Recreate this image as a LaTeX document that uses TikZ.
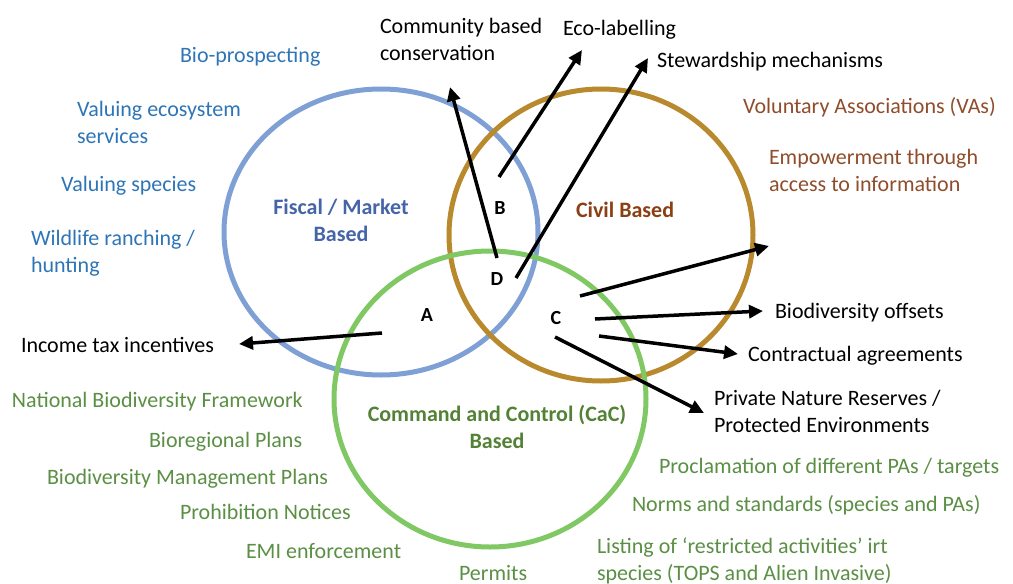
\documentclass[tikz,border=0pt]{standalone}
\usepackage{fontspec}
\setmainfont{Carlito}
\usetikzlibrary{arrows.meta}
\definecolor{bluecirc}{HTML}{7FA0D5}
\definecolor{goldcirc}{HTML}{B8892D}
\definecolor{greencirc}{HTML}{80C863}
\definecolor{bluetxt}{HTML}{2E75B6}
\definecolor{bluelab}{HTML}{4565A8}
\definecolor{browntxt}{HTML}{8F4D2B}
\definecolor{brownlab}{HTML}{8A3F14}
\definecolor{greentxt}{HTML}{5A8F44}
\definecolor{greenlab}{HTML}{538135}
\begin{document}
\begin{tikzpicture}[x=1pt,y=-1pt,
  every node/.style={inner sep=0pt,outer sep=0pt},
  txt/.style={anchor=base west,align=left,font=\fontsize{22}{27}\selectfont},
  lab/.style={anchor=base,align=center,font=\fontsize{22}{27}\selectfont\bfseries},
  letter/.style={anchor=base,font=\fontsize{20}{24}\selectfont\bfseries},
  ring/.style={line width=5pt},
  arr/.style={line width=3.5pt,-{Triangle[length=14pt,width=13pt]}}]
\useasboundingbox (0,0) rectangle (1013,584);
% circles
\draw[ring,bluecirc] (381,232) ellipse [x radius=157,y radius=143];
\draw[ring,goldcirc] (601,235) ellipse [x radius=152,y radius=146];
\draw[ring,greencirc] (490,399) ellipse [x radius=156,y radius=148];
% main labels
\node[lab,bluelab] (fiscal) at (341,241) {Fiscal / Market\\Based};
\node[lab,brownlab,anchor=base west] (civil) at (576,217) {Civil Based};
\node[lab,greenlab] (cac) at (497,448) {Command and Control (CaC)\\Based};
% letters
\node[letter] (A) at (427,321) {A};
\node[letter] (B) at (500,214) {B};
\node[letter] (C) at (556,324) {C};
\node[letter] (D) at (497,285) {D};
% blue items
\node[txt,bluetxt] (bio) at (180,62) {Bio-prospecting};
\node[txt,bluetxt] (ves) at (77,143) {Valuing ecosystem\\services};
\node[txt,bluetxt] (vsp) at (61,191) {Valuing species};
\node[txt,bluetxt] (wild) at (31,272) {Wildlife ranching /\\hunting};
% brown items
\node[txt,browntxt] (vol) at (743,113) {Voluntary Associations (VAs)};
\node[txt,browntxt] (emp) at (769,191) {Empowerment through\\access to information};
% green items
\node[txt,greentxt] (nbf) at (12,407) {National Biodiversity Framework};
\node[txt,greentxt] (brp) at (149,447) {Bioregional Plans};
\node[txt,greentxt] (bmp) at (47,484) {Biodiversity Management Plans};
\node[txt,greentxt] (pn) at (180,519) {Prohibition Notices};
\node[txt,greentxt] (emi) at (246,558) {EMI enforcement};
\node[txt,greentxt] (perm) at (459,580) {Permits};
\node[txt,greentxt] (proc) at (659,473) {Proclamation of different PAs / targets};
\node[txt,greentxt] (norms) at (632,511) {Norms and standards (species and PAs)};
\node[txt,greentxt] (list) at (597,580) {Listing of ‘restricted activities’ irt\\species (TOPS and Alien Invasive)};
% black items
\node[txt] (comm) at (380,60) {Community based\\conservation};
\node[txt] (eco) at (563,35) {Eco-labelling};
\node[txt] (stew) at (657,67) {Stewardship mechanisms};
\node[txt] (income) at (21,352) {Income tax incentives};
\node[txt] (offs) at (775,318) {Biodiversity offsets};
\node[txt] (contr) at (748,361) {Contractual agreements};
\node[txt] (pnr) at (714,432) {Private Nature Reserves /\\Protected Environments};
% arrow ends
\coordinate (t1) at (497,258); \coordinate (h1) at (450,87);
\coordinate (t2) at (499,177); \coordinate (h2) at (582,50);
\coordinate (t3) at (516,278); \coordinate (h3) at (648,58);
\coordinate (t4) at (580,296); \coordinate (h4) at (769,246);
\coordinate (t5) at (595,319); \coordinate (h5) at (763,311);
\coordinate (t6) at (599,336); \coordinate (h6) at (738,354);
\coordinate (t7) at (555,337); \coordinate (h7) at (704,413);
\coordinate (t8) at (382,333); \coordinate (h8) at (239,344);
\foreach \i in {1,...,8} \draw[arr] (t\i) -- (h\i);
\end{tikzpicture}
\end{document}
